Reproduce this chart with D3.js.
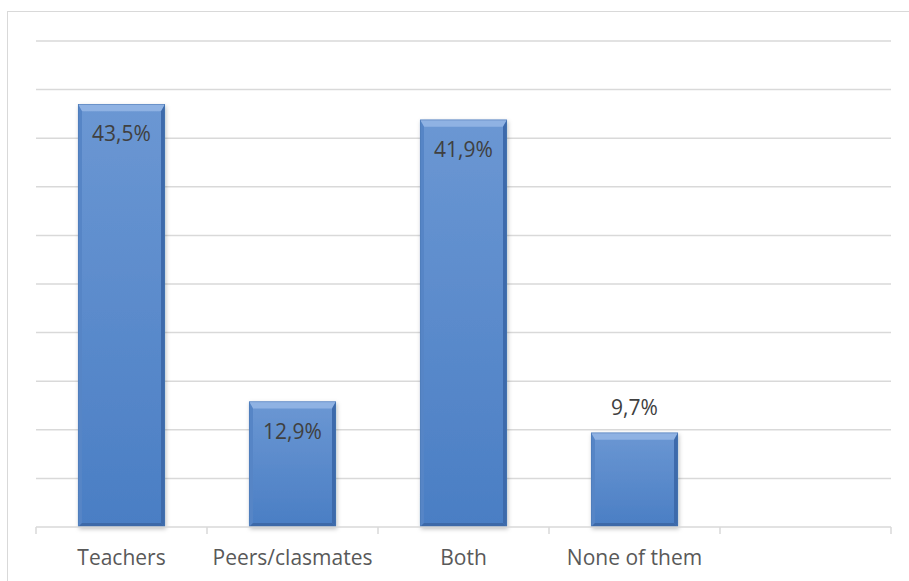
<!DOCTYPE html>
<html>
<head>
<meta charset="utf-8">
<script src="https://cdn.jsdelivr.net/npm/d3@7"></script>
<style>
  html, body { margin: 0; padding: 0; background: #fff; }
  svg { display: block; }
</style>
</head>
<body>
<script>
const categories = ["Teachers", "Peers/clasmates", "Both", "None of them", ""];
const values = [43.5, 12.9, 41.9, 9.7, null];
const valueLabels = ["43,5%", "12,9%", "41,9%", "9,7%", ""];
const yTicks = [0, 5, 10, 15, 20, 25, 30, 35, 40, 45, 50];

const W = 909, H = 581;
const svg = d3.select("body").append("svg").attr("width", W).attr("height", H);

const defs = svg.append("defs");
const grad = defs.append("linearGradient").attr("id", "barGrad")
  .attr("x1", 0).attr("y1", 0).attr("x2", 0).attr("y2", 1);
grad.append("stop").attr("offset", "0%").attr("stop-color", "#6b97d3");
grad.append("stop").attr("offset", "100%").attr("stop-color", "#4a7ec4");
const f = defs.append("filter").attr("id", "shadow").attr("x", "-20%").attr("y", "-10%").attr("width", "140%").attr("height", "130%");
f.append("feDropShadow").attr("dx", 1).attr("dy", 2).attr("stdDeviation", 2).attr("flood-color", "#000").attr("flood-opacity", 0.25);

// outer frame
svg.append("rect").attr("x", 7.5).attr("y", 11.5).attr("width", W).attr("height", H)
  .attr("fill", "none").attr("stroke", "#d9d9d9").attr("stroke-width", 1);

const x = d3.scaleBand().domain(d3.range(categories.length)).range([36, 891])
  .paddingInner(0.491).paddingOuter(0.2455);
const y = d3.scaleLinear().domain([0, 50]).range([527, 41]);

// gridlines
svg.append("g").selectAll("line").data(yTicks.filter(t => t > 0)).join("line")
  .attr("x1", 36).attr("x2", 891)
  .attr("y1", d => y(d)).attr("y2", d => y(d))
  .attr("stroke", "#d9d9d9").attr("stroke-width", 1.5);

// bars
const bars = svg.append("g");
values.forEach((v, i) => {
  if (v == null) return;
  const bx = x(i), bw = x.bandwidth(), by = y(v), bh = y(0) - y(v);
  const g = bars.append("g").attr("filter", "url(#shadow)");
  g.append("rect").attr("x", bx).attr("y", by).attr("width", bw).attr("height", bh)
    .attr("fill", "url(#barGrad)");
  const t = 7, s = 4, b = 4;
  g.append("polygon").attr("points", [[bx, by], [bx + bw, by], [bx + bw - s, by + t], [bx + s, by + t]].join(" "))
    .attr("fill", "#8fb2e3");
  g.append("polygon").attr("points", [[bx, by], [bx + s, by + t], [bx + s, by + bh - b], [bx, by + bh]].join(" "))
    .attr("fill", "#5685c6");
  g.append("polygon").attr("points", [[bx + bw, by], [bx + bw - s, by + t], [bx + bw - s, by + bh - b], [bx + bw, by + bh]].join(" "))
    .attr("fill", "#3d6aab");
  g.append("polygon").attr("points", [[bx, by + bh], [bx + s, by + bh - b], [bx + bw - s, by + bh - b], [bx + bw, by + bh]].join(" "))
    .attr("fill", "#3c69a8");
  g.append("rect").attr("x", bx + 0.25).attr("y", by + 0.25).attr("width", bw - 0.5).attr("height", bh - 0.5)
    .attr("fill", "none").attr("stroke", "#4a76b2").attr("stroke-width", 0.5);
});

// x axis
const axisY = y(0);
svg.append("line").attr("x1", 36).attr("x2", 891).attr("y1", axisY).attr("y2", axisY)
  .attr("stroke", "#d9d9d9").attr("stroke-width", 1.5);
const bounds = d3.range(categories.length + 1).map(i => i < categories.length ? x(i) - x.step() * x.paddingInner() / 2 : x(i - 1) + x.bandwidth() + x.step() * x.paddingInner() / 2);
svg.append("g").selectAll("line").data(bounds).join("line")
  .attr("x1", d => d).attr("x2", d => d).attr("y1", axisY).attr("y2", axisY + 7)
  .attr("stroke", "#d9d9d9").attr("stroke-width", 1.5);

// category labels
svg.append("g").selectAll("text").data(categories).join("text")
  .attr("x", (d, i) => x(i) + x.bandwidth() / 2).attr("y", 565)
  .attr("text-anchor", "middle")
  .attr("font-family", "'Open Sans', sans-serif").attr("font-size", 21)
  .attr("fill", "#595959").text(d => d);

// value labels
svg.append("g").selectAll("text").data(values).join("text")
  .attr("x", (d, i) => x(i) + x.bandwidth() / 2)
  .attr("y", d => d == null ? 0 : (y(0) - y(d) > 100 ? y(d) + 37 : y(d) - 18))
  .attr("text-anchor", "middle")
  .attr("font-family", "'Open Sans', sans-serif").attr("font-size", 21)
  .attr("fill", "#404040").text((d, i) => valueLabels[i]);
</script>
</body>
</html>
